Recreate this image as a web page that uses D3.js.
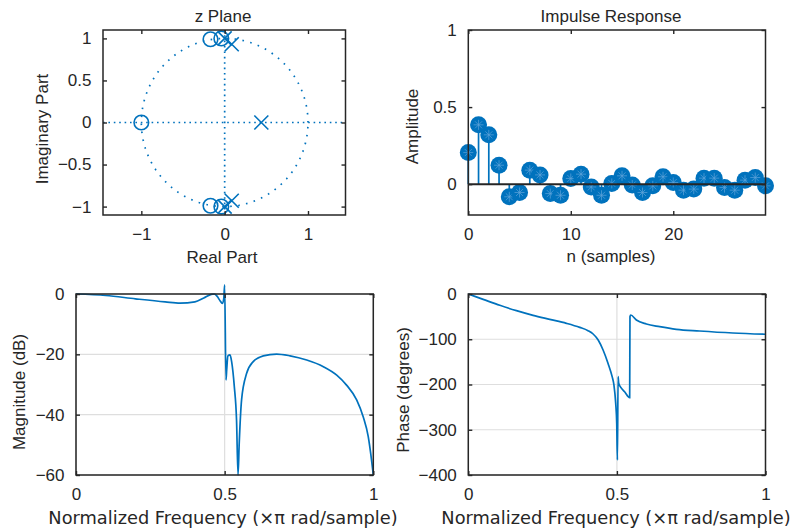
<!DOCTYPE html>
<html>
<head>
<meta charset="utf-8">
<script src="https://cdn.jsdelivr.net/npm/d3@7"></script>
<style>
  body { margin: 0; background: #fff; }
  svg { display: block; }
  text { font-family: 'Liberation Sans', Arial, sans-serif; fill: #262626; }
</style>
</head>
<body>
<svg class="filterSVG" width="793" height="531"></svg>
<script>
const zeroRe = [-1, -0.17, -0.17, -0.04, -0.04];
const zeroIm = [0, 0.99, -0.99, 1.0, -1.0];
const poleRe = [0.44, 0, 0, 0.085, 0.085];
const poleIm = [0, 1.0, -1.0, 0.93, -0.93];

// impulse response, n = 0..29
const impulse = [0.205, 0.385, 0.32, 0.123, -0.082, -0.054, 0.091, 0.06, -0.061, -0.072,
                 0.037, 0.065, -0.018, -0.072, 0.005, 0.054, -0.005, -0.054, -0.011, 0.048,
                 0.011, -0.039, -0.032, 0.039, 0.039, -0.022, -0.039, 0.026, 0.043, -0.011];

// magnitude response (dB)
const magFreq = [0, 0.1, 0.2, 0.3, 0.35, 0.4, 0.43, 0.455, 0.465, 0.475, 0.485, 0.492, 0.497, 0.5,
                 0.5045, 0.507, 0.511, 0.518, 0.5235, 0.5325, 0.54, 0.545, 0.549, 0.557, 0.574,
                 0.596, 0.63, 0.675, 0.72, 0.776, 0.832, 0.877, 0.91, 0.944, 0.966, 0.983, 0.994, 1.0];
const magDb = [0, -0.5, -1.6, -2.6, -3.0, -2.6, -1.3, -0.1, 0, -0.8, -2.3, -3.1, -1.5, 3,
               -28.5, -25, -20.5, -20.2, -22.4, -30.7, -41.8, -60, -49.5, -35, -26.3,
               -22.4, -20.5, -19.9, -20.5, -21.9, -24.1, -26.9, -30.2, -35.1, -40.7, -47.3, -55, -60];

// phase response (degrees)
const phaseFreq = [0, 0.05, 0.106, 0.162, 0.218, 0.274, 0.33, 0.375, 0.403, 0.42, 0.437, 0.4535,
                   0.47, 0.484, 0.49, 0.496, 0.4994, 0.5017, 0.504, 0.506, 0.515, 0.526, 0.543,
                   0.544, 0.5465, 0.5655, 0.599, 0.644, 0.7, 0.778, 0.89, 1.0];
const phaseDeg = [0, -11.8, -25, -36.8, -47.1, -56, -64.8, -73.7, -81, -88.4, -101.7, -123.8,
                  -153, -182.7, -201, -241.6, -285.8, -366.8, -182.7, -197, -208, -216, -229,
                  -50, -46.4, -57.5, -66.3, -72.2, -78, -81.8, -86.2, -89];

const zTicksX = [-1, 0, 1];
const zTicksY = [-1, -0.5, 0, 0.5, 1];
const impTicksX = [0, 10, 20];
const impTicksY = [0, 0.5, 1];
const freqTicks = [0, 0.5, 1];
const magTicks = [-60, -40, -20, 0];
const phaseTicks = [-400, -300, -200, -100, 0];

const blue = '#0072BD';
const axisCol = '#262626';
const fontSize = '17px';
const svg = d3.select('svg.filterSVG');

function makePanel(p) {
  const x = d3.scaleLinear().domain(p.xDom).range([p.left, p.right]);
  const y = d3.scaleLinear().domain(p.yDom).range([p.bottom, p.top]);
  const g = svg.append('g');

  if (p.grid) {
    g.selectAll('line.gx').data(p.xTicks).enter().append('line')
      .attr('x1', d => x(d)).attr('x2', d => x(d))
      .attr('y1', p.top).attr('y2', p.bottom)
      .style('stroke', '#dedede').style('stroke-width', 1.2);
    g.selectAll('line.gy').data(p.yTicks).enter().append('line')
      .attr('x1', p.left).attr('x2', p.right)
      .attr('y1', d => y(d)).attr('y2', d => y(d))
      .style('stroke', '#dedede').style('stroke-width', 1.2);
  }

  const plot = svg.append('g');
  const frame = svg.append('g');

  frame.append('rect')
    .attr('x', p.left).attr('y', p.top)
    .attr('width', p.right - p.left).attr('height', p.bottom - p.top)
    .style('fill', 'none').style('stroke', axisCol).style('stroke-width', 1.5);

  const styleAxis = sel => {
    sel.select('.domain').remove();
    sel.selectAll('line').style('stroke', axisCol).style('stroke-width', 1.4);
    sel.selectAll('text').style('font-size', fontSize).style('fill', axisCol)
      .style('font-family', "'Liberation Sans', Arial, sans-serif");
  };

  frame.append('g').attr('transform', `translate(0,${p.bottom})`)
    .call(d3.axisBottom(x).tickValues(p.xTicks).tickSize(-4).tickPadding(12.5).tickFormat(d3.format('')))
    .call(styleAxis);
  frame.append('g').attr('transform', `translate(0,${p.top})`)
    .call(d3.axisTop(x).tickValues(p.xTicks).tickSize(-4).tickFormat(''))
    .call(styleAxis);
  frame.append('g').attr('transform', `translate(${p.left},0)`)
    .call(d3.axisLeft(y).tickValues(p.yTicks).tickSize(-4).tickPadding(11.5).tickFormat(d3.format('')))
    .call(styleAxis);
  frame.append('g').attr('transform', `translate(${p.right},0)`)
    .call(d3.axisRight(y).tickValues(p.yTicks).tickSize(-4).tickFormat(''))
    .call(styleAxis);

  if (p.title) {
    frame.append('text').text(p.title)
      .attr('x', p.titleX).attr('y', 21.5)
      .attr('text-anchor', 'middle').style('font-size', fontSize);
  }
  frame.append('text').text(p.xLabel)
    .attr('x', p.xLabelX).attr('y', p.xLabelY)
    .attr('text-anchor', 'middle')
    .style('font-size', p.xLabelFont || fontSize)
    .style('font-family', p.xLabelFamily || "'Liberation Sans', Arial, sans-serif");
  frame.append('text').text(p.yLabel)
    .attr('transform', `translate(${p.yLabelX},${p.yLabelY}) rotate(-90)`)
    .attr('text-anchor', 'middle').style('font-size', fontSize);

  return {x, y, plot};
}

// ---- z plane ----
const zp = makePanel({
  left: 103, right: 345.5, top: 30, bottom: 215,
  xDom: [-1.46, 1.45], yDom: [-1.1, 1.1],
  xTicks: zTicksX, yTicks: zTicksY,
  title: 'z Plane', titleX: 223,
  xLabel: 'Real Part', xLabelX: 222, xLabelY: 263,
  yLabel: 'Imaginary Part', yLabelX: 47.5, yLabelY: 129
});

const unit = d3.range(0, 361, 2).map(a => [Math.cos(a * Math.PI / 180), Math.sin(a * Math.PI / 180)]);
zp.plot.append('path')
  .attr('d', d3.line().x(d => zp.x(d[0])).y(d => zp.y(d[1]))(unit))
  .style('fill', 'none').style('stroke', blue).style('stroke-width', 1.7)
  .style('stroke-dasharray', '1.6,6.4');
zp.plot.append('line')
  .attr('x1', zp.x(-1.46)).attr('x2', zp.x(1.45)).attr('y1', zp.y(0)).attr('y2', zp.y(0))
  .style('stroke', blue).style('stroke-width', 1.7).style('stroke-dasharray', '1.6,3.8');
zp.plot.append('line')
  .attr('x1', zp.x(0)).attr('x2', zp.x(0)).attr('y1', zp.y(-1.1)).attr('y2', zp.y(1.1))
  .style('stroke', blue).style('stroke-width', 1.7).style('stroke-dasharray', '1.6,3.8');

zp.plot.selectAll('circle.zero')
  .data(d3.range(zeroRe.length)).enter().append('circle')
  .attr('cx', i => zp.x(zeroRe[i])).attr('cy', i => zp.y(zeroIm[i])).attr('r', 7.3)
  .style('fill', 'none').style('stroke', blue).style('stroke-width', 1.6);

zp.plot.selectAll('path.pole')
  .data(d3.range(poleRe.length)).enter().append('path')
  .attr('transform', i => `translate(${zp.x(poleRe[i])},${zp.y(poleIm[i])})`)
  .attr('d', 'M-7,-7L7,7M-7,7L7,-7')
  .style('fill', 'none').style('stroke', blue).style('stroke-width', 1.6);

// ---- impulse response ----
const ip = makePanel({
  left: 468.3, right: 765.5, top: 30, bottom: 215,
  xDom: [0, 29], yDom: [-0.2, 1],
  xTicks: impTicksX, yTicks: impTicksY,
  title: 'Impulse Response', titleX: 611,
  xLabel: 'n (samples)', xLabelX: 611, xLabelY: 262,
  yLabel: 'Amplitude', yLabelX: 418, yLabelY: 126.5
});

ip.plot.selectAll('line.stem')
  .data(impulse).enter().append('line')
  .attr('x1', (d, i) => ip.x(i)).attr('x2', (d, i) => ip.x(i))
  .attr('y1', ip.y(0)).attr('y2', d => ip.y(d))
  .style('stroke', blue).style('stroke-width', 1.7);

const mk = ip.plot.selectAll('g.mk')
  .data(impulse).enter().append('g')
  .attr('transform', (d, i) => `translate(${ip.x(i)},${ip.y(d)})`);
mk.append('circle').attr('r', 8.5).style('fill', blue);
mk.append('path')
  .attr('d', 'M-5,0L5,0M0,-5L0,5M-3.5,-3.5L3.5,3.5M-3.5,3.5L3.5,-3.5')
  .style('stroke', '#5fa3da').style('stroke-width', 0.7);

ip.plot.append('line')
  .attr('x1', ip.x(0)).attr('x2', ip.x(29)).attr('y1', ip.y(0)).attr('y2', ip.y(0))
  .style('stroke', axisCol).style('stroke-width', 2);

// ---- magnitude ----
const mp = makePanel({
  left: 76, right: 373.3, top: 294, bottom: 475,
  xDom: [0, 1], yDom: [-60, 0], grid: true,
  xTicks: freqTicks, yTicks: magTicks,
  xLabel: 'Normalized Frequency (\u00d7\u03c0 rad/sample)', xLabelX: 223, xLabelY: 524,
  xLabelFont: '17.8px', xLabelFamily: "'DejaVu Sans', sans-serif",
  yLabel: 'Magnitude (dB)', yLabelX: 25, yLabelY: 392
});
mp.plot.append('path')
  .attr('d', d3.line().curve(d3.curveMonotoneX)
    .x((d, i) => mp.x(magFreq[i])).y(d => mp.y(d))(magDb))
  .style('fill', 'none').style('stroke', blue).style('stroke-width', 1.7);

// ---- phase ----
const pp = makePanel({
  left: 468.3, right: 765.5, top: 294, bottom: 475,
  xDom: [0, 1], yDom: [-400, 0], grid: true,
  xTicks: freqTicks, yTicks: phaseTicks,
  xLabel: 'Normalized Frequency (\u00d7\u03c0 rad/sample)', xLabelX: 616, xLabelY: 524,
  xLabelFont: '17.8px', xLabelFamily: "'DejaVu Sans', sans-serif",
  yLabel: 'Phase (degrees)', yLabelX: 409, yLabelY: 390
});
pp.plot.append('path')
  .attr('d', d3.line().curve(d3.curveMonotoneX)
    .x((d, i) => pp.x(phaseFreq[i])).y(d => pp.y(d))(phaseDeg))
  .style('fill', 'none').style('stroke', blue).style('stroke-width', 1.7);
</script>
</body>
</html>
